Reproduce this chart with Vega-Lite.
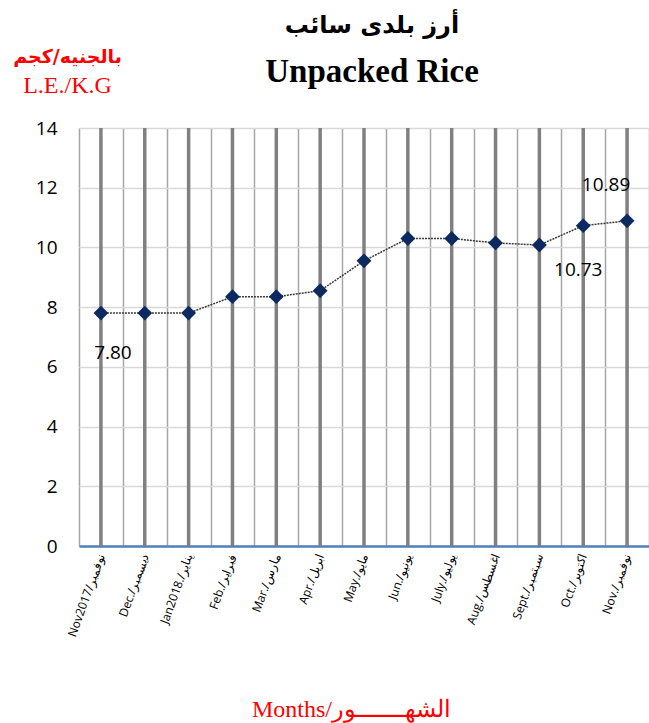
{
  "$schema": "https://vega.github.io/schema/vega-lite/v6.json",
  "width": 570,
  "height": 418,
  "autosize": {"type": "none"},
  "padding": {"left": 79, "top": 128, "right": 0, "bottom": 177},
  "background": "white",
  "title": {
    "text": "أرز بلدى سائب",
    "subtitle": "Unpacked Rice",
    "font": "DejaVu Sans",
    "fontSize": 24,
    "fontWeight": "bold",
    "color": "black",
    "subtitleFont": "Liberation Serif",
    "subtitleFontSize": 33,
    "subtitleFontWeight": "bold",
    "subtitleColor": "black",
    "subtitlePadding": 18,
    "anchor": "middle",
    "frame": "group",
    "offset": 4,
    "dx": 8,
    "dy": 46
  },
  "data": {
    "values": [
      {"month": "Nov2017/نوفمبر", "price": 7.80},
      {"month": "Dec./ديسمبر", "price": 7.80},
      {"month": "Jan2018./يناير", "price": 7.80},
      {"month": "Feb./فبراير", "price": 8.35},
      {"month": "Mar./مارس", "price": 8.35},
      {"month": "Apr./ابريل", "price": 8.55},
      {"month": "May./مايو", "price": 9.55},
      {"month": "Jun./يونيو", "price": 10.30},
      {"month": "July./يوليو", "price": 10.30},
      {"month": "Aug./اغسطس", "price": 10.15},
      {"month": "Sept./سبتمبر", "price": 10.08},
      {"month": "Oct./اكتوبر", "price": 10.73},
      {"month": "Nov./نوفمبر", "price": 10.89}
    ]
  },
  "resolve": {"axis": {"x": "independent"}},
  "layer": [
    {
      "mark": {"type": "rule", "color": "#808080", "strokeWidth": 3.5},
      "encoding": {
        "x": {
          "field": "month", "type": "nominal", "sort": null,
          "scale": {"type": "band", "paddingInner": 0, "paddingOuter": 0},
          "axis": {
            "orient": "top", "labels": false, "ticks": false, "domain": false, "grid": false,
            "title": "L.E./K.G", "titleFont": "Liberation Serif", "titleFontSize": 24,
            "titleFontWeight": "normal", "titleColor": "#ff0000",
            "titleX": -12, "titleY": -43, "titleAlign": "center", "titleBaseline": "middle", "titleAngle": 0
          }
        }
      }
    },
    {
      "mark": {"type": "line", "color": "#3a3a3a", "strokeWidth": 1.5, "strokeDash": [2, 1]},
      "encoding": {
        "x": {
          "field": "month", "type": "nominal", "sort": null,
          "scale": {"type": "band", "paddingInner": 0, "paddingOuter": 0},
          "axis": {
            "orient": "bottom", "labelAngle": -70, "labelFont": "Open Sans", "labelFontSize": 12,
            "labelColor": "black", "labelPadding": 8, "ticks": false, "tickBand": "extent",
            "domain": true, "domainColor": "#4f81bd", "domainWidth": 2.5,
            "grid": true, "gridColor": "#a6a6a6", "gridWidth": 1.5,
            "title": "Months/الشهـــــــور", "titleFont": "Liberation Serif", "titleFontSize": 24,
            "titleFontWeight": "normal", "titleColor": "#ff0000",
            "titleX": 272, "titleY": 170, "titleAlign": "center", "titleBaseline": "alphabetic"
          }
        },
        "y": {
          "field": "price", "type": "quantitative",
          "scale": {"domain": [0, 14], "nice": false, "zero": true},
          "axis": {
            "values": [0, 2, 4, 6, 8, 10, 12, 14],
            "grid": true, "gridColor": "#d9d9d9", "gridWidth": 1.5,
            "domain": false, "ticks": false,
            "labelFont": "Open Sans", "labelFontSize": 19, "labelColor": "black", "labelPadding": 22,
            "title": "بالجنيه/كجم", "titleFont": "DejaVu Sans", "titleFontSize": 19,
            "titleFontWeight": "bold", "titleColor": "#ff0000", "titleAngle": 0,
            "titleX": -12, "titleY": -72, "titleAlign": "center", "titleBaseline": "middle"
          }
        }
      }
    },
    {
      "mark": {"type": "point", "shape": "diamond", "filled": true, "color": "#0d2a60", "size": 220, "opacity": 1},
      "encoding": {
        "x": {"field": "month", "type": "nominal", "sort": null, "scale": {"type": "band", "paddingInner": 0, "paddingOuter": 0}, "axis": null},
        "y": {"field": "price", "type": "quantitative"}
      }
    },
    {
      "transform": [{"filter": "datum.month === 'Nov2017/نوفمبر'"}],
      "mark": {"type": "text", "font": "Open Sans", "fontSize": 19, "color": "black", "dx": 12, "dy": 40, "baseline": "middle", "align": "center"},
      "encoding": {
        "x": {"field": "month", "type": "nominal", "sort": null, "scale": {"type": "band", "paddingInner": 0, "paddingOuter": 0}, "axis": null},
        "y": {"field": "price", "type": "quantitative"},
        "text": {"field": "price", "type": "quantitative", "format": ".2f"}
      }
    },
    {
      "transform": [{"filter": "datum.month === 'Oct./اكتوبر'"}],
      "mark": {"type": "text", "font": "Open Sans", "fontSize": 19, "color": "black", "dx": -5, "dy": 44, "baseline": "middle", "align": "center"},
      "encoding": {
        "x": {"field": "month", "type": "nominal", "sort": null, "scale": {"type": "band", "paddingInner": 0, "paddingOuter": 0}, "axis": null},
        "y": {"field": "price", "type": "quantitative"},
        "text": {"field": "price", "type": "quantitative", "format": ".2f"}
      }
    },
    {
      "transform": [{"filter": "datum.month === 'Nov./نوفمبر'"}],
      "mark": {"type": "text", "font": "Open Sans", "fontSize": 19, "color": "black", "dx": -21, "dy": -36, "baseline": "middle", "align": "center"},
      "encoding": {
        "x": {"field": "month", "type": "nominal", "sort": null, "scale": {"type": "band", "paddingInner": 0, "paddingOuter": 0}, "axis": null},
        "y": {"field": "price", "type": "quantitative"},
        "text": {"field": "price", "type": "quantitative", "format": ".2f"}
      }
    }
  ]
}
